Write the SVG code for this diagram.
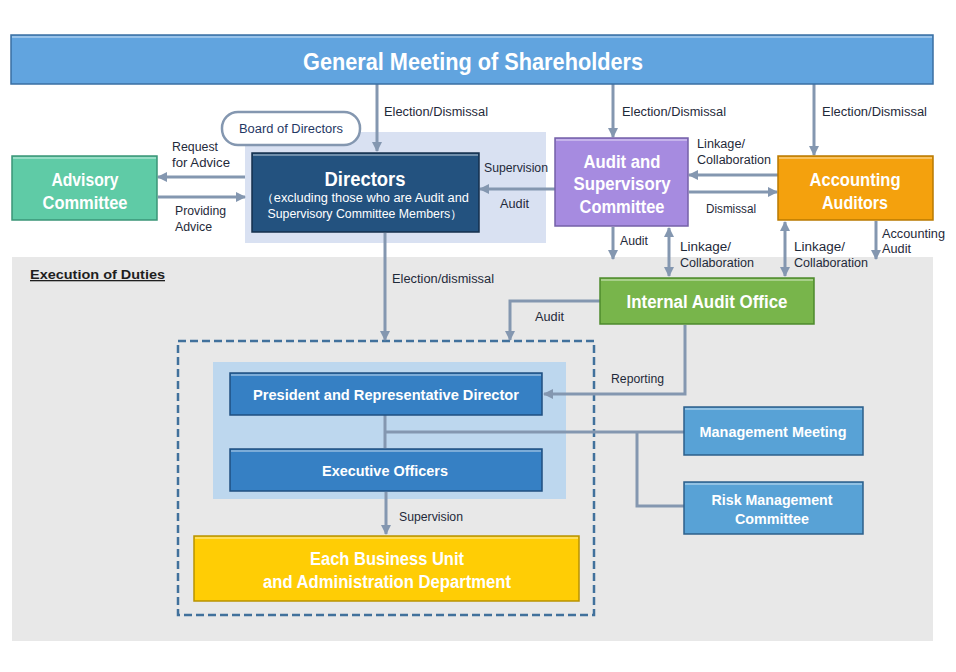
<svg xmlns="http://www.w3.org/2000/svg" width="956" height="672" viewBox="0 0 956 672">
<defs>
<marker id="ah" viewBox="0 0 10 10" refX="9" refY="5" markerWidth="10" markerHeight="10" markerUnits="userSpaceOnUse" orient="auto-start-reverse">
<path d="M0,0 L10,5 L0,10 z" fill="#8497b0"/>
</marker>
<style>
.t{font-family:"Liberation Sans","DejaVu Sans",sans-serif}
.lbl{font-family:"Liberation Sans","DejaVu Sans",sans-serif;font-size:12px;fill:#1f2a3a}
.w{font-family:"Liberation Sans","DejaVu Sans",sans-serif;font-weight:bold;fill:#ffffff;text-anchor:middle}
.wn{font-family:"Liberation Sans","DejaVu Sans",sans-serif;font-weight:normal;fill:#ffffff;text-anchor:middle;font-size:12px}
.c{fill:none;stroke:#8497b0;stroke-width:3}
.hl{stroke:#ffffff;stroke-opacity:0.35;stroke-width:2}
</style>
</defs>
<rect width="956" height="672" fill="#ffffff"/>
<!-- backgrounds -->
<rect x="12" y="257" width="921" height="384" fill="#e8e8e8"/>
<rect x="245" y="132" width="301" height="111" fill="#d9e1f2"/>
<text class="t" x="30" y="279" font-size="13" font-weight="bold" fill="#1f1f1f" text-decoration="underline" textLength="135" lengthAdjust="spacingAndGlyphs">Execution of Duties</text>
<rect x="178" y="341" width="416" height="274" fill="none" stroke="#41719c" stroke-width="2.5" stroke-dasharray="8 4"/>
<rect x="213" y="362" width="353" height="137" fill="#bdd7ee"/>

<!-- connectors -->
<g id="connectors">
<line class="c" x1="377" y1="84" x2="377" y2="151" marker-end="url(#ah)"/>
<line class="c" x1="613" y1="84" x2="613" y2="137" marker-end="url(#ah)"/>
<line class="c" x1="814" y1="84" x2="814" y2="155" marker-end="url(#ah)"/>
<line class="c" x1="245" y1="177" x2="158" y2="177" marker-end="url(#ah)"/>
<line class="c" x1="158" y1="197" x2="245" y2="197" marker-end="url(#ah)"/>
<line class="c" x1="555" y1="189" x2="480" y2="189" marker-end="url(#ah)"/>
<line class="c" x1="778" y1="175" x2="689" y2="175" marker-end="url(#ah)"/>
<line class="c" x1="689" y1="192" x2="777" y2="192" marker-end="url(#ah)"/>
<line class="c" x1="613" y1="227" x2="613" y2="259" marker-end="url(#ah)"/>
<line class="c" x1="669" y1="228" x2="669" y2="276" marker-start="url(#ah)" marker-end="url(#ah)"/>
<line class="c" x1="785" y1="222" x2="785" y2="276" marker-start="url(#ah)" marker-end="url(#ah)"/>
<line class="c" x1="876" y1="221" x2="876" y2="259" marker-end="url(#ah)"/>
<line class="c" x1="385" y1="233" x2="385" y2="340" marker-end="url(#ah)"/>
<polyline class="c" points="600,301 510,301 510,340" marker-end="url(#ah)"/>
<polyline class="c" points="685,325 685,394 544,394" marker-end="url(#ah)"/>
<line class="c" x1="385" y1="415" x2="385" y2="448"/>
<line class="c" x1="385" y1="432" x2="684" y2="432"/>
<polyline class="c" points="637,432 637,506 684,506"/>
<line class="c" x1="386" y1="492" x2="386" y2="534" marker-end="url(#ah)"/>
</g>

<!-- connector labels -->
<g id="labels">
<text class="lbl" x="384" y="116" textLength="104" lengthAdjust="spacingAndGlyphs">Election/Dismissal</text>
<text class="lbl" x="622" y="116" textLength="104" lengthAdjust="spacingAndGlyphs">Election/Dismissal</text>
<text class="lbl" x="822" y="116" textLength="105" lengthAdjust="spacingAndGlyphs">Election/Dismissal</text>
<text class="lbl" x="172" y="151" textLength="46" lengthAdjust="spacingAndGlyphs">Request</text>
<text class="lbl" x="172" y="167" textLength="58" lengthAdjust="spacingAndGlyphs">for Advice</text>
<text class="lbl" x="175" y="215" textLength="51" lengthAdjust="spacingAndGlyphs">Providing</text>
<text class="lbl" x="175" y="231" textLength="37" lengthAdjust="spacingAndGlyphs">Advice</text>
<text class="lbl" x="484" y="172" textLength="64" lengthAdjust="spacingAndGlyphs">Supervision</text>
<text class="lbl" x="500" y="208" textLength="29" lengthAdjust="spacingAndGlyphs">Audit</text>
<text class="lbl" x="697" y="148" textLength="48" lengthAdjust="spacingAndGlyphs">Linkage/</text>
<text class="lbl" x="697" y="164" textLength="74" lengthAdjust="spacingAndGlyphs">Collaboration</text>
<text class="lbl" x="706" y="213" textLength="50" lengthAdjust="spacingAndGlyphs">Dismissal</text>
<text class="lbl" x="620" y="245" textLength="28" lengthAdjust="spacingAndGlyphs">Audit</text>
<text class="lbl" x="680" y="251" textLength="51" lengthAdjust="spacingAndGlyphs">Linkage/</text>
<text class="lbl" x="680" y="267" textLength="74" lengthAdjust="spacingAndGlyphs">Collaboration</text>
<text class="lbl" x="794" y="251" textLength="51" lengthAdjust="spacingAndGlyphs">Linkage/</text>
<text class="lbl" x="794" y="267" textLength="74" lengthAdjust="spacingAndGlyphs">Collaboration</text>
<text class="lbl" x="882" y="238" textLength="63" lengthAdjust="spacingAndGlyphs">Accounting</text>
<text class="lbl" x="882" y="253" textLength="29" lengthAdjust="spacingAndGlyphs">Audit</text>
<text class="lbl" x="392" y="283" textLength="102" lengthAdjust="spacingAndGlyphs">Election/dismissal</text>
<text class="lbl" x="535" y="321" textLength="29" lengthAdjust="spacingAndGlyphs">Audit</text>
<text class="lbl" x="611" y="383" textLength="53" lengthAdjust="spacingAndGlyphs">Reporting</text>
<text class="lbl" x="399" y="521" textLength="64" lengthAdjust="spacingAndGlyphs">Supervision</text>
</g>

<!-- nodes -->
<g id="gm">
<rect x="11" y="35" width="922" height="49" fill="#61a4df" stroke="#3a6fa3" stroke-width="1.5"/>
<line class="hl" x1="12" y1="37" x2="932" y2="37"/>
<text class="w" x="473" y="70" font-size="24" textLength="340" lengthAdjust="spacingAndGlyphs">General Meeting of Shareholders</text>
</g>
<g id="board">
<rect x="222" y="112" width="138" height="33" rx="16" fill="#ffffff" stroke="#8497b0" stroke-width="2.5"/>
<text class="t" x="291" y="133" font-size="12" fill="#1f3864" text-anchor="middle" textLength="104" lengthAdjust="spacingAndGlyphs">Board of Directors</text>
</g>
<g id="advisory">
<rect x="12" y="156" width="145" height="64" fill="#5fcba6" stroke="#3a9577" stroke-width="1.5"/>
<line class="hl" x1="13" y1="158" x2="156" y2="158"/>
<text class="w" x="85" y="186" font-size="18" textLength="67" lengthAdjust="spacingAndGlyphs">Advisory</text>
<text class="w" x="85" y="209" font-size="18" textLength="85" lengthAdjust="spacingAndGlyphs">Committee</text>
</g>
<g id="directors">
<rect x="252" y="153" width="227" height="79" fill="#23527f" stroke="#142f4c" stroke-width="1.5"/>
<line class="hl" x1="253" y1="155" x2="478" y2="155"/>
<text class="w" x="365" y="186" font-size="20" textLength="81" lengthAdjust="spacingAndGlyphs">Directors</text>
<text class="wn" x="365" y="202" textLength="208" lengthAdjust="spacingAndGlyphs">（excluding those who are Audit and</text>
<text class="wn" x="365" y="218" textLength="195" lengthAdjust="spacingAndGlyphs">Supervisory Committee Members）</text>
</g>
<g id="asc">
<rect x="555" y="138" width="133" height="88" fill="#a68be0" stroke="#7460a8" stroke-width="1.5"/>
<line class="hl" x1="556" y1="140" x2="687" y2="140"/>
<text class="w" x="622" y="168" font-size="18" textLength="77" lengthAdjust="spacingAndGlyphs">Audit and</text>
<text class="w" x="622" y="190" font-size="18" textLength="97" lengthAdjust="spacingAndGlyphs">Supervisory</text>
<text class="w" x="622" y="213" font-size="18" textLength="85" lengthAdjust="spacingAndGlyphs">Committee</text>
</g>
<g id="accounting">
<rect x="778" y="156" width="155" height="64" fill="#f4a10d" stroke="#b97a00" stroke-width="1.5"/>
<line class="hl" x1="779" y1="158" x2="932" y2="158"/>
<text class="w" x="855" y="186" font-size="18" textLength="91" lengthAdjust="spacingAndGlyphs">Accounting</text>
<text class="w" x="855" y="209" font-size="18" textLength="66" lengthAdjust="spacingAndGlyphs">Auditors</text>
</g>
<g id="internal">
<rect x="600" y="278" width="214" height="46" fill="#78b54b" stroke="#4d8a2c" stroke-width="1.5"/>
<line class="hl" x1="601" y1="280" x2="813" y2="280"/>
<text class="w" x="707" y="308" font-size="18" textLength="161" lengthAdjust="spacingAndGlyphs">Internal Audit Office</text>
</g>
<g id="president">
<rect x="230" y="373" width="312" height="42" fill="#3680c4" stroke="#1f4f80" stroke-width="1.5"/>
<line class="hl" x1="231" y1="375" x2="541" y2="375"/>
<text class="w" x="386" y="400" font-size="15" textLength="266" lengthAdjust="spacingAndGlyphs">President and Representative Director</text>
</g>
<g id="executive">
<rect x="230" y="449" width="312" height="42" fill="#3680c4" stroke="#1f4f80" stroke-width="1.5"/>
<line class="hl" x1="231" y1="451" x2="541" y2="451"/>
<text class="w" x="385" y="476" font-size="15" textLength="126" lengthAdjust="spacingAndGlyphs">Executive Officers</text>
</g>
<g id="management">
<rect x="684" y="407" width="179" height="48" fill="#58a2d6" stroke="#2c5f8a" stroke-width="1.5"/>
<line class="hl" x1="685" y1="409" x2="862" y2="409"/>
<text class="w" x="773" y="437" font-size="15" textLength="147" lengthAdjust="spacingAndGlyphs">Management Meeting</text>
</g>
<g id="risk">
<rect x="684" y="482" width="179" height="52" fill="#58a2d6" stroke="#2c5f8a" stroke-width="1.5"/>
<line class="hl" x1="685" y1="484" x2="862" y2="484"/>
<text class="w" x="772" y="505" font-size="15" textLength="121" lengthAdjust="spacingAndGlyphs">Risk Management</text>
<text class="w" x="772" y="524" font-size="15" textLength="74" lengthAdjust="spacingAndGlyphs">Committee</text>
</g>
<g id="business">
<rect x="194" y="536" width="385" height="65" fill="#ffcd05" stroke="#b89200" stroke-width="1.5"/>
<line class="hl" x1="195" y1="538" x2="578" y2="538"/>
<text class="w" x="387" y="565" font-size="18" textLength="154" lengthAdjust="spacingAndGlyphs">Each Business Unit</text>
<text class="w" x="387" y="588" font-size="18" textLength="248" lengthAdjust="spacingAndGlyphs">and Administration Department</text>
</g>
</svg>
